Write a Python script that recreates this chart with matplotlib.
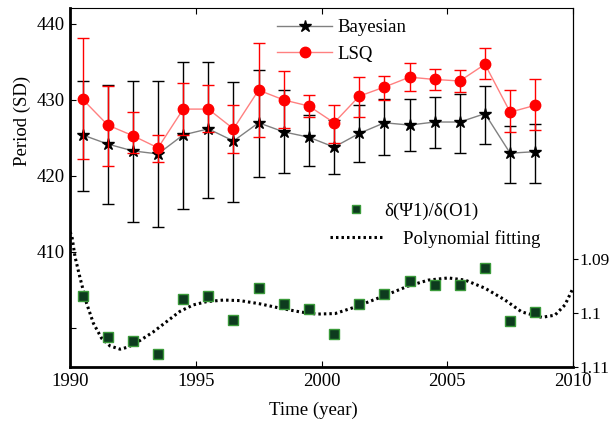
import matplotlib
matplotlib.use("Agg")
import matplotlib.pyplot as plt
from matplotlib.lines import Line2D
import numpy as np

plt.rcParams["font.family"] = ["Liberation Serif", "DejaVu Serif"]
plt.rcParams["font.size"] = 13

# --------------------
# Data
# --------------------
years = [1990.5, 1991.5, 1992.5, 1993.5, 1994.5, 1995.5, 1996.5, 1997.5, 1998.5, 1999.5,
         2000.5, 2001.5, 2002.5, 2003.5, 2004.5, 2005.5, 2006.5, 2007.5, 2008.5]

bayes = [425.4, 424.2, 423.3, 422.9, 425.4, 426.2, 424.6, 427.0, 425.8, 425.1,
         423.8, 425.6, 427.0, 426.7, 427.1, 427.1, 428.2, 423.0, 423.2]
bayes_hi = [432.5, 432.0, 432.5, 432.5, 435.0, 435.0, 432.4, 434.0, 431.3, 428.0,
            427.4, 429.3, 430.1, 430.1, 430.4, 430.8, 431.8, 426.6, 426.8]
bayes_lo = [418.0, 416.3, 414.0, 413.3, 415.6, 417.1, 416.6, 419.9, 420.4, 421.3,
            420.3, 421.8, 422.8, 423.3, 423.7, 423.0, 424.2, 419.1, 419.1]

lsq = [430.1, 426.7, 425.3, 423.7, 428.8, 428.8, 426.2, 431.3, 430.0, 429.2,
       427.0, 430.5, 431.7, 433.0, 432.7, 432.5, 434.7, 428.4, 429.3]
lsq_hi = [438.2, 431.8, 428.4, 425.4, 432.2, 432.0, 429.3, 437.5, 433.8, 430.7,
          429.3, 433.0, 433.2, 434.9, 434.1, 434.0, 436.8, 431.3, 432.7]
lsq_lo = [422.2, 421.3, 423.0, 421.8, 425.4, 425.8, 423.0, 425.1, 426.3, 427.8,
          424.3, 427.8, 430.0, 431.2, 431.3, 431.1, 432.7, 425.8, 426.1]

ratio = [1.0969, 1.1044, 1.1052, 1.1076, 1.0974, 1.0969, 1.1013, 1.0954, 1.0983, 1.0993,
         1.1039, 1.0983, 1.0965, 1.0941, 1.0948, 1.0948, 1.0917, 1.1015, 1.0998]

# polynomial fitting curve
fit_x = [1990.0, 1990.07, 1990.2, 1990.4, 1990.66, 1990.93, 1991.26, 1991.59, 1991.99,
         1992.32, 1992.78, 1993.31, 1993.84, 1994.37, 1994.9, 1995.43, 1996.1, 1996.76,
         1997.55, 1998.35, 1999.15, 1999.81, 2000.54, 2001.33, 2002.39, 2003.45, 2004.25,
         2005.04, 2005.71, 2006.5, 2007.3, 2007.96, 2008.76, 2009.28, 2009.68, 2010.0]
fit_y = [1.0850, 1.0856, 1.0896, 1.0935, 1.0982, 1.1019, 1.1047, 1.1061, 1.1067,
         1.1063, 1.1051, 1.1035, 1.1016, 1.0997, 1.0985, 1.0979, 1.0976, 1.0977,
         1.0983, 1.0991, 1.0998, 1.1002, 1.1001, 1.0989, 1.0970, 1.0950, 1.0939,
         1.0935, 1.0939, 1.0954, 1.0976, 1.0998, 1.1008, 1.1004, 1.0985, 1.0954]

x_ticks = [1990, 1995, 2000, 2005, 2010]
left_ticks = [400, 410, 420, 430, 440]
left_labels = ["", "410", "420", "430", "440"]
right_ticks = [1.09, 1.1, 1.11]
right_labels = ["1.09", "1.1", "1.11"]

# --------------------
# Figure
# --------------------
W, H = 612, 424
fig = plt.figure(figsize=(W / 100, H / 100), dpi=100)
ax = fig.add_axes([70 / W, 1 - 367 / H, 503 / W, 359 / H])

bayes = np.array(bayes)
lsq = np.array(lsq)
b_err = [bayes - np.array(bayes_lo), np.array(bayes_hi) - bayes]
l_err = [lsq - np.array(lsq_lo), np.array(lsq_hi) - lsq]

ax.errorbar(years, bayes, yerr=b_err, fmt="none", ecolor="black", elinewidth=1.0,
            capsize=4.3, capthick=1.0, zorder=2)
ax.plot(years, bayes, color="#808080", lw=1.0, zorder=3)
ax.plot(years, bayes, ls="none", marker="*", ms=9, color="black", zorder=4)

ax.errorbar(years, lsq, yerr=l_err, fmt="none", ecolor="#ff0000", elinewidth=1.0,
            capsize=4.3, capthick=1.0, zorder=5)
ax.plot(years, lsq, color="#ff8080", lw=1.0, zorder=6)
ax.plot(years, lsq, ls="none", marker="o", ms=7.5, color="#ff0000", zorder=7)

ax.set_xlim(1990, 2010)
ax.set_ylim(394.87, 442.1)
ax.set_xticks(x_ticks)
ax.set_yticks(left_ticks)
ax.set_yticklabels(left_labels)
ax.tick_params(direction="in", length=4, width=0.8, top=True, right=True, labelsize=13.5)
ax.tick_params(axis="x", pad=4)

for s in ["left", "bottom"]:
    ax.spines[s].set_linewidth(2.0)
for s in ["top", "right"]:
    ax.spines[s].set_linewidth(0.8)

ax.set_ylabel("Period (SD)", fontsize=13.5)
ax.yaxis.set_label_coords(-0.077, 0.685)
ax.set_xlabel("Time (year)", fontsize=13.5)
ax.xaxis.set_label_coords(0.483, -0.098)

# --------------------
# Right axis (ratio, reversed)
# --------------------
ax2 = ax.twinx()
ax2.plot(fit_x, fit_y, color="black", lw=2.2, ls=(0, (0.8, 1.0)), zorder=2)
ax2.plot(years, ratio, ls="none", marker="s", ms=7, markerfacecolor="#0d3b1e",
         markeredgecolor="#3a9a3a", markeredgewidth=1.0, zorder=3)
ax2.set_ylim(1.110, 1.0435)
ax2.set_yticks(right_ticks)
ax2.set_yticklabels(right_labels)
ax2.tick_params(axis="y", direction="out", length=3.5, width=0.8, labelsize=12.5, pad=1.5)
for s in ["left", "bottom", "top"]:
    ax2.spines[s].set_visible(False)
ax2.spines["right"].set_linewidth(0.8)

# --------------------
# Legends
# --------------------
h_bayes = Line2D([], [], color="#808080", lw=1.0, marker="*", ms=9,
                 markerfacecolor="black", markeredgecolor="black")
h_lsq = Line2D([], [], color="#ff8080", lw=1.0, marker="o", ms=7.5,
               markerfacecolor="#ff0000", markeredgecolor="#ff0000")
leg1 = fig.legend([h_bayes, h_lsq], ["Bayesian", "LSQ"], loc="upper left",
                  bbox_to_anchor=(277 / W, 1 - 19 / H), frameon=False, fontsize=13.5,
                  borderpad=0, borderaxespad=0, handlelength=2.95, handletextpad=0.3,
                  labelspacing=0.5)

h_ratio = Line2D([], [], ls="none", marker="s", ms=5.5, markerfacecolor="#0d3b1e",
                 markeredgecolor="#3a9a3a", markeredgewidth=1.0)
leg2 = fig.legend([h_ratio], ["δ(Ψ1)/δ(O1)"], loc="center left",
                  bbox_to_anchor=(338 / W, 1 - 211 / H), frameon=False, fontsize=13.5,
                  borderpad=0, borderaxespad=0, handlelength=1.95, handletextpad=0.5)

h_fit = Line2D([], [], color="black", lw=2.2, ls=(0, (0.8, 1.0)))
leg3 = fig.legend([h_fit], ["Polynomial fitting"], loc="center left",
                  bbox_to_anchor=(330 / W, 1 - 239 / H), frameon=False, fontsize=13.5,
                  borderpad=0, borderaxespad=0, handlelength=2.8, handletextpad=1.1)

fig.savefig("out.png", dpi=100)
